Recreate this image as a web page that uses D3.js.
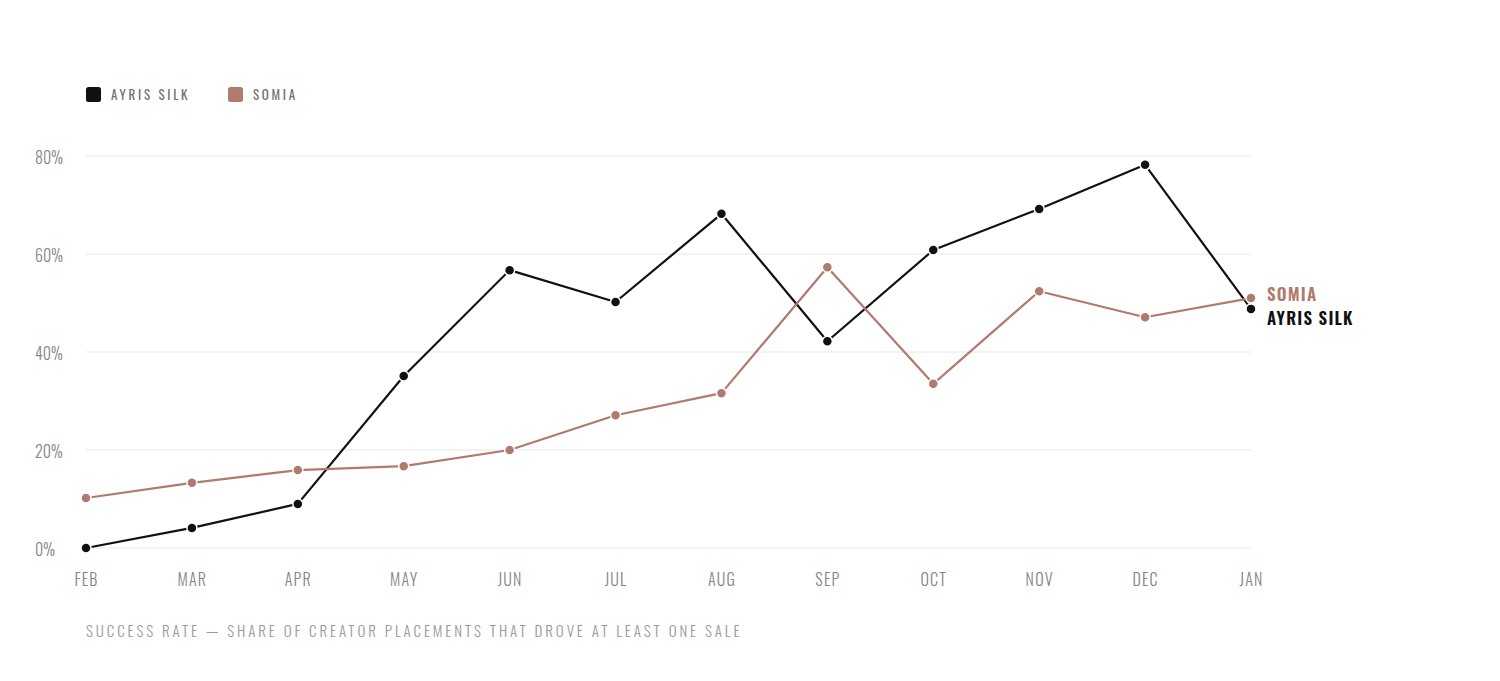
<!DOCTYPE html>
<html>
<head>
<meta charset="utf-8">
<script src="https://cdn.jsdelivr.net/npm/d3@7"></script>
<style>
  body { margin: 0; background: #fff; }
  svg { display: block; font-family: Oswald, "Liberation Sans Narrow", "DejaVu Sans Condensed", sans-serif; }
</style>
</head>
<body>
<svg id="chart" width="1500" height="681"></svg>
<script>
// --- data ---
const months = ["FEB", "MAR", "APR", "MAY", "JUN", "JUL", "AUG", "SEP", "OCT", "NOV", "DEC", "JAN"];
const ayrisSilk = [0, 4.1, 9.0, 35.1, 56.7, 50.2, 68.2, 42.2, 60.8, 69.2, 78.2, 48.8];
const somia = [10.2, 13.3, 15.9, 16.7, 20.0, 27.1, 31.6, 57.3, 33.5, 52.4, 47.1, 51.0];
const yTicks = [0, 20, 40, 60, 80];
const seriesNames = ["AYRIS SILK", "SOMIA"];
const seriesColors = ["#111111", "#b07a6e"];

const series = [
    { name: seriesNames[0], values: ayrisSilk, color: seriesColors[0] },
    { name: seriesNames[1], values: somia, color: seriesColors[1] }
];

const svg = d3.select("#chart"),
    margin = { top: 156, right: 249, bottom: 133, left: 86 },
    width = 1500 - margin.left - margin.right,
    height = 681 - margin.top - margin.bottom;

const x = d3.scalePoint()
    .domain(months)
    .range([margin.left, margin.left + width]);

const y = d3.scaleLinear()
    .domain([0, 80])
    .range([margin.top + height, margin.top]);

// gridlines
svg.append("g")
    .selectAll("line")
    .data(yTicks)
    .enter()
    .append("line")
    .attr("x1", margin.left)
    .attr("x2", margin.left + width)
    .attr("y1", d => y(d))
    .attr("y2", d => y(d))
    .attr("stroke", "#e6e6e6")
    .attr("stroke-width", 1);

// y axis labels
const yAxis = svg.append("g")
    .attr("transform", `translate(${margin.left - 22},0)`)
    .call(d3.axisLeft(y).tickValues(yTicks).tickFormat(d => d + "%").tickSize(0))
    .attr("font-family", null)
    .attr("font-size", null);
yAxis.select(".domain").remove();
yAxis.selectAll("text")
    .attr("text-anchor", "start")
    .attr("x", -29)
    .attr("y", 2)
    .attr("dy", "0.32em")
    .attr("fill", "#858585")
    .attr("font-weight", 300)
    .style("font-size", "16px");

// x axis labels
const xAxis = svg.append("g")
    .attr("transform", `translate(0,${margin.top + height + 24})`)
    .call(d3.axisBottom(x).tickSize(0))
    .attr("font-family", null)
    .attr("font-size", null);
xAxis.select(".domain").remove();
xAxis.selectAll("text")
    .attr("dy", "0.71em")
    .attr("fill", "#858585")
    .attr("font-weight", 300)
    .attr("letter-spacing", "1.2px")
    .style("font-size", "16px");

// lines
const line = d3.line()
    .x((d, i) => x(months[i]))
    .y(d => y(d));

series.forEach(s => {
    svg.append("path")
        .datum(s.values)
        .attr("fill", "none")
        .attr("stroke", s.color)
        .attr("stroke-width", 2.2)
        .attr("stroke-linejoin", "round")
        .attr("d", line);
});

series.forEach(s => {
    svg.append("g")
        .selectAll("circle")
        .data(s.values)
        .enter()
        .append("circle")
        .attr("cx", (d, i) => x(months[i]))
        .attr("cy", d => y(d))
        .attr("r", 5)
        .attr("fill", s.color)
        .attr("stroke", "#fff")
        .attr("stroke-width", 1.5);
});

// end labels
const last = months.length - 1;
svg.append("text")
    .attr("x", x(months[last]) + 16)
    .attr("y", y(somia[last]) - 3)
    .attr("dy", "0.35em")
    .attr("fill", seriesColors[1])
    .attr("font-weight", 600)
    .attr("letter-spacing", "1.2px")
    .style("font-size", "17px")
    .text(seriesNames[1]);
svg.append("text")
    .attr("x", x(months[last]) + 16)
    .attr("y", y(ayrisSilk[last]) + 10)
    .attr("dy", "0.35em")
    .attr("fill", seriesColors[0])
    .attr("font-weight", 600)
    .attr("letter-spacing", "1.2px")
    .style("font-size", "17px")
    .text(seriesNames[0]);

// legend
const legend = svg.append("g").attr("transform", "translate(86,87)");
const legendX = [0, 142];
series.forEach((s, i) => {
    const g = legend.append("g").attr("transform", `translate(${legendX[i]},0)`);
    g.append("rect")
        .attr("width", 15)
        .attr("height", 15)
        .attr("rx", 2.5)
        .attr("fill", s.color);
    g.append("text")
        .attr("x", 25)
        .attr("y", 8)
        .attr("dy", "0.35em")
        .attr("fill", "#707070")
        .attr("font-weight", 400)
        .attr("letter-spacing", "2.7px")
        .style("font-size", "13px")
        .text(s.name);
});

// caption
svg.append("text")
    .attr("x", 86)
    .attr("y", 637)
    .attr("fill", "#9a9a9a")
    .attr("font-weight", 300)
    .attr("letter-spacing", "2.9px")
    .style("font-size", "15px")
    .text("SUCCESS RATE — SHARE OF CREATOR PLACEMENTS THAT DROVE AT LEAST ONE SALE");
</script>
</body>
</html>
